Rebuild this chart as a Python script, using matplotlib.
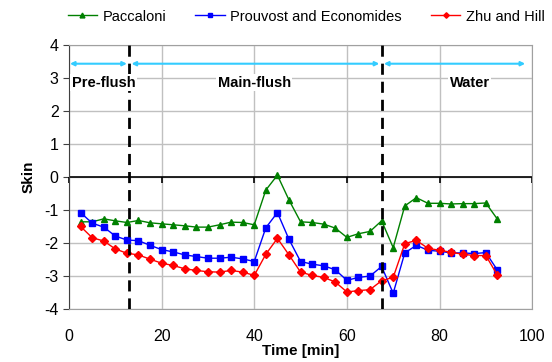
import numpy as np
import matplotlib.pyplot as plt
from matplotlib.markers import TICKDOWN

plt.rcParams['font.family'] = ['Liberation Sans', 'DejaVu Sans']
plt.rcParams['axes.unicode_minus'] = False

# time points [min]
time = np.arange(1, 38) * 2.5

paccaloni = [-1.36, -1.36, -1.27, -1.33, -1.38, -1.32, -1.39, -1.42, -1.45, -1.48,
             -1.52, -1.52, -1.45, -1.37, -1.38, -1.45, -0.40, 0.05, -0.70, -1.36,
             -1.38, -1.43, -1.55, -1.83, -1.72, -1.65, -1.33, -2.14, -0.88, -0.63,
             -0.80, -0.80, -0.82, -0.81, -0.81, -0.79, -1.28]
prouvost = [-1.08, -1.40, -1.52, -1.79, -1.91, -1.93, -2.07, -2.20, -2.27, -2.36,
            -2.41, -2.46, -2.46, -2.43, -2.48, -2.56, -1.54, -1.08, -1.89, -2.56,
            -2.64, -2.69, -2.81, -3.13, -3.04, -3.00, -2.71, -3.52, -2.30, -2.07,
            -2.22, -2.25, -2.30, -2.30, -2.32, -2.29, -2.82]
zhu_hill = [-1.50, -1.84, -1.94, -2.18, -2.31, -2.36, -2.49, -2.61, -2.68, -2.78,
            -2.83, -2.87, -2.88, -2.83, -2.88, -2.98, -2.34, -1.86, -2.36, -2.88,
            -2.98, -3.04, -3.18, -3.48, -3.44, -3.41, -3.14, -3.04, -2.02, -1.92,
            -2.16, -2.22, -2.28, -2.34, -2.38, -2.38, -2.97]

# stage boundaries [min]
stage_edges = [0, 13, 67.5, 99]
stage_names = ['Pre-flush', 'Main-flush', 'Water']
label_x = [0.6, 40, 86.5]
xticks = list(range(0, 101, 20))

fig = plt.figure(figsize=(5.52, 3.62), dpi=100)
ax = fig.add_axes([0.125, 0.146, 0.839, 0.731])

# x axis line crossing at skin = 0, with its tick marks
ax.axhline(0, color='black', lw=1.2, zorder=1.5)
ax.plot(xticks, np.zeros(len(xticks)), ls='none', marker=TICKDOWN, ms=4,
        mew=1.2, color='black', zorder=1.5, clip_on=False)

ax.plot(time, paccaloni, '-^', color='#008000', lw=1, ms=5, label='Paccaloni')
ax.plot(time, prouvost, '-s', color='#0000FF', lw=1, ms=4.5, label='Prouvost and Economides')
ax.plot(time, zhu_hill, '-D', color='#FF0000', lw=1, ms=4, label='Zhu and Hill')

for xv in stage_edges[1:3]:
    ax.axvline(xv, color='black', lw=2, ls=(0, (4, 2.5)), zorder=3)

# stage arrows and labels
for i, name in enumerate(stage_names):
    x0 = stage_edges[i] + (0.2 if i == 0 else 0.5)
    x1 = stage_edges[i + 1] - 0.5
    ax.annotate('', xy=(x0, 3.42), xytext=(x1, 3.42),
                arrowprops=dict(arrowstyle='<|-|>', color='#33CCFF', lw=1.5,
                                mutation_scale=6, shrinkA=0, shrinkB=0), zorder=4)
    ax.text(label_x[i], 2.85, name, fontsize=10.5, fontweight='bold', va='center',
            ha='left' if i == 0 else 'center',
            bbox=dict(facecolor='white', edgecolor='none', pad=1), zorder=4)

ax.set_xlim(0, 100)
ax.set_ylim(-4, 4)
ax.set_xticks(xticks)
ax.set_yticks(range(-4, 5))
ax.grid(True, color='#C0C0C0', lw=1)
ax.set_axisbelow(True)
for s in ['top', 'right', 'bottom']:
    ax.spines[s].set_color('#A0A0A0')
ax.spines['left'].set_color('#404040')
ax.tick_params(labelsize=11.5, length=4, color='#404040')
ax.tick_params(axis='x', length=0, pad=14)

ax.set_xlabel('Time [min]', fontsize=11, fontweight='bold', labelpad=0)
ax.set_ylabel('Skin', fontsize=11, fontweight='bold', labelpad=6)

handles, labels = ax.get_legend_handles_labels()
fig.legend(handles[-3:], labels[-3:], loc='upper center', bbox_to_anchor=(0.555, 1.01),
           ncol=3, frameon=False, fontsize=10.5, handlelength=2, columnspacing=2,
           handletextpad=0.4, markerscale=0.7)

fig.savefig('out.png', dpi=100)
